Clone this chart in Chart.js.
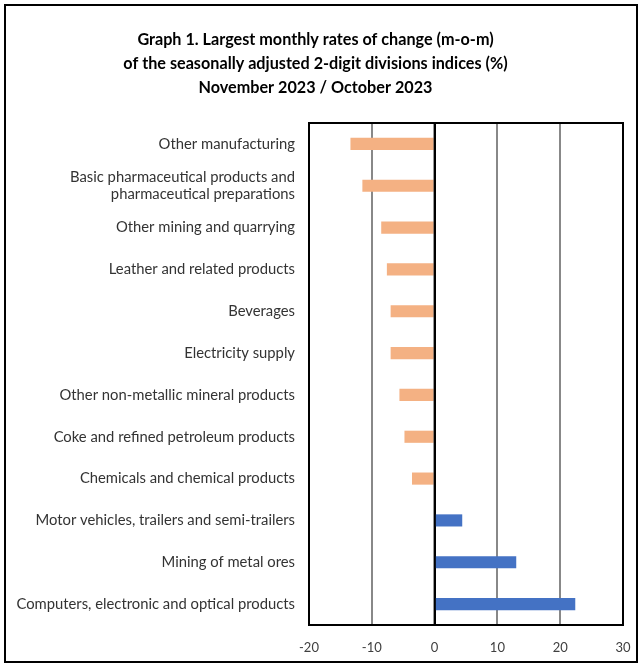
<!DOCTYPE html>
<html>
<head>
<meta charset="utf-8">
<script src="https://cdn.jsdelivr.net/npm/chart.js@4"></script>
<style>
  body { margin: 0; background: #fff; }
  #wrap { position: relative; width: 642px; height: 667px; }
</style>
</head>
<body>
<div id="wrap"><canvas id="myChart"></canvas></div>
<script>
let labels = [
  "Other manufacturing",
  ["Basic pharmaceutical products and", "pharmaceutical preparations"],
  "Other mining and quarrying",
  "Leather and related products",
  "Beverages",
  "Electricity supply",
  "Other non-metallic mineral products",
  "Coke and refined petroleum products",
  "Chemicals and chemical products",
  "Motor vehicles, trailers and semi-trailers",
  "Mining of metal ores",
  "Computers, electronic and optical products"
];
let values = [-13.4, -11.5, -8.5, -7.6, -7.0, -7.0, -5.6, -4.8, -3.6, 4.4, 13.0, 22.4];
let xTicks = [-20, -10, 0, 10, 20, 30];
let titleLines = [
  "Graph 1. Largest monthly rates of change (m-o-m)",
  "of the seasonally adjusted 2-digit divisions indices (%)",
  "November 2023 / October 2023"
];

let colors = values.map(v => v < 0 ? '#F4B183' : '#4472C4');

// outer frame + plot frame
let frames = {
  id: 'frames',
  afterDraw(chart) {
    let c = chart.ctx, a = chart.chartArea;
    c.save();
    c.strokeStyle = '#000';
    c.lineWidth = 2;
    c.strokeRect(5, 5, 632, 657);
    c.strokeRect(a.left, a.top, a.right - a.left, a.bottom - a.top);
    let x0 = chart.scales.x.getPixelForValue(0);
    c.beginPath();
    c.moveTo(x0, a.top);
    c.lineTo(x0, a.bottom);
    c.stroke();
    c.restore();
  }
};

let ctx = document.getElementById('myChart').getContext('2d');
let myChart = new Chart(ctx, {
  type: 'bar',
  data: {
    labels: labels,
    datasets: [{
      data: values,
      backgroundColor: colors,
      barPercentage: 0.29,
      categoryPercentage: 1
    }]
  },
  options: {
    indexAxis: 'y',
    responsive: true,
    maintainAspectRatio: false,
    animation: false,
    layout: { padding: { left: 8, right: 19, top: 18, bottom: 0 } },
    plugins: {
      legend: { display: false },
      tooltip: { enabled: false },
      title: {
        display: true,
        text: titleLines,
        color: '#000',
        font: { family: 'Lato', size: 16.2, weight: 'bold', lineHeight: '24px' },
        padding: { top: 10, bottom: 23 }
      }
    },
    scales: {
      x: {
        min: xTicks[0],
        max: xTicks[xTicks.length - 1],
        afterBuildTicks: (s) => { s.ticks = xTicks.map(v => ({ value: v })); },
        afterFit: (s) => { s.height = 42; s.paddingLeft = 0; s.paddingRight = 0; },
        ticks: { color: '#404040', font: { family: 'Lato', size: 13 }, padding: 15 },
        grid: {
          color: (c) => c.tick && c.tick.value === 0 ? '#000' : '#888',
          lineWidth: 2,
          drawTicks: false
        },
        border: { display: false }
      },
      y: {
        afterFit: (s) => { s.width = 301; },
        ticks: { color: '#333', font: { family: 'Lato', size: 14.8 }, padding: 14 },
        grid: { display: false, drawTicks: false },
        border: { display: false }
      }
    }
  },
  plugins: [frames]
});
</script>
</body>
</html>
